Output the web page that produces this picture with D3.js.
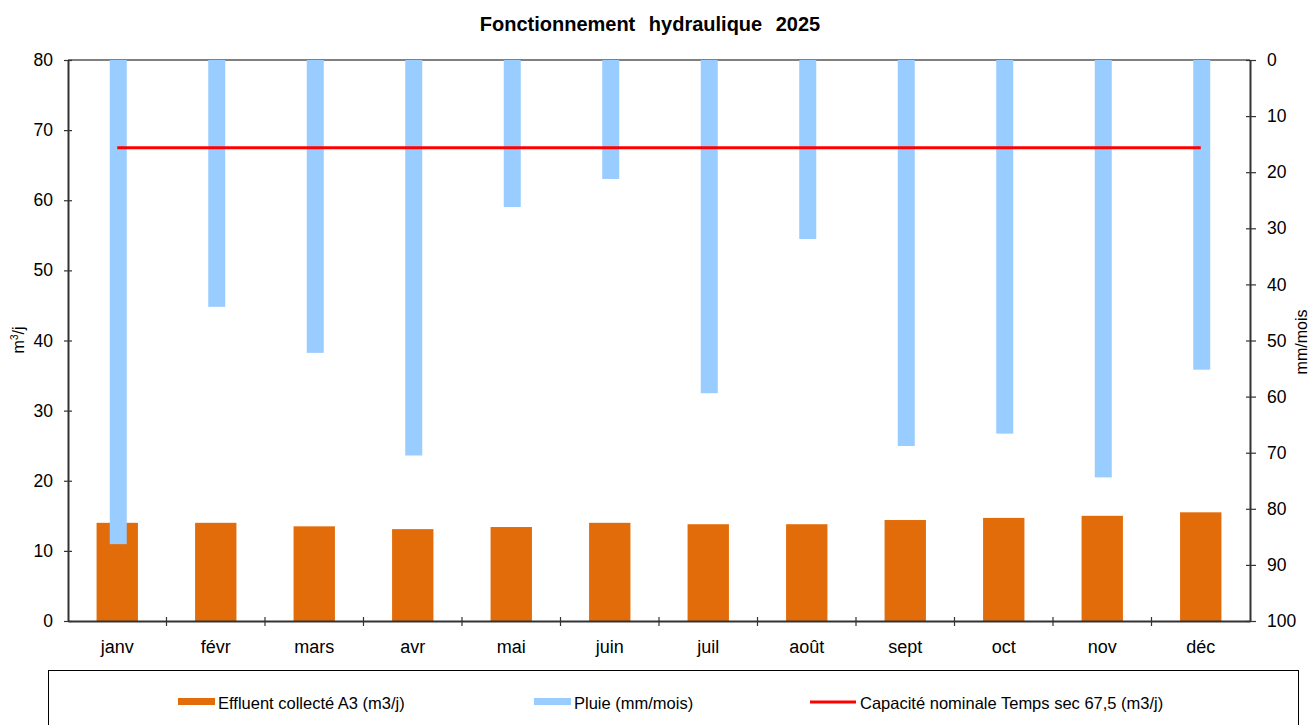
<!DOCTYPE html>
<html>
<head>
<meta charset="utf-8">
<script src="https://cdn.jsdelivr.net/npm/d3@7"></script>
<style>
  body { margin: 0; background: #fff; }
  svg text { font-family: "Liberation Sans", Arial, sans-serif; fill: #000; }
</style>
</head>
<body>
<svg id="chart" width="1312" height="725"></svg>
<script>
// data
var months = ["janv", "févr", "mars", "avr", "mai", "juin", "juil", "août", "sept", "oct", "nov", "déc"];
var effluent = [14.0, 14.0, 13.5, 13.1, 13.4, 14.0, 13.8, 13.8, 14.4, 14.7, 15.0, 15.5];
var pluie = [86.3, 44.0, 52.2, 70.5, 26.2, 21.2, 59.4, 31.9, 68.8, 66.6, 74.4, 55.2];
var capacite = 67.5;
var leftTicks = [0, 10, 20, 30, 40, 50, 60, 70, 80];
var rightTicks = [0, 10, 20, 30, 40, 50, 60, 70, 80, 90, 100];

var svg = d3.select("#chart");
var m = {left: 68, right: 1250, top: 60, bottom: 621};

var x = d3.scaleBand().domain(months).range([m.left, m.right]);
var y = d3.scaleLinear().domain([0, 80]).range([m.bottom, m.top]);
var y2 = d3.scaleLinear().domain([0, 100]).range([m.top, m.bottom]);

// title
svg.append("text")
    .attr("x", 650).attr("y", 31)
    .attr("text-anchor", "middle")
    .style("font-size", "20px").style("font-weight", "bold")
    .style("word-spacing", "8px")
    .text("Fonctionnement hydraulique 2025");

// top border
svg.append("line")
    .attr("x1", m.left).attr("x2", m.right)
    .attr("y1", m.top).attr("y2", m.top)
    .attr("stroke", "#808080").attr("stroke-width", 2);

// effluent bars
var bw = x.bandwidth() * 0.42;
svg.selectAll(".eff")
  .data(effluent)
  .enter().append("rect")
    .attr("class", "eff")
    .attr("x", function(d, i) { return x(months[i]) + x.bandwidth() / 2 - bw / 2; })
    .attr("y", function(d) { return y(d); })
    .attr("width", bw)
    .attr("height", function(d) { return y(0) - y(d); })
    .attr("fill", "#E36C0A");

// rain bars (hanging from top)
var pw = 17;
svg.selectAll(".pluie")
  .data(pluie)
  .enter().append("rect")
    .attr("class", "pluie")
    .attr("x", function(d, i) { return x(months[i]) + x.bandwidth() / 2 - pw / 2 + 1; })
    .attr("y", y2(0))
    .attr("width", pw)
    .attr("height", function(d) { return y2(d) - y2(0); })
    .attr("fill", "#99CCFF");

// capacity line
svg.append("line")
    .attr("x1", x(months[0]) + x.bandwidth() / 2)
    .attr("x2", x(months[11]) + x.bandwidth() / 2)
    .attr("y1", y(capacite)).attr("y2", y(capacite))
    .attr("stroke", "#FF0000").attr("stroke-width", 3);

// left axis
var gl = svg.append("g").attr("transform", "translate(" + m.left + ",0)")
  .call(d3.axisLeft(y).tickValues(leftTicks).tickSize(0).tickPadding(15));
gl.select(".domain").attr("stroke", "#333").attr("stroke-width", 2);
gl.selectAll(".tick text").style("font-size", "17.5px").attr("fill", "#000");
gl.selectAll(".tick").append("line")
    .attr("x1", -4).attr("x2", 4).attr("stroke", "#333").attr("stroke-width", 1.2);

// right axis
var gr = svg.append("g").attr("transform", "translate(" + m.right + ",0)")
  .call(d3.axisRight(y2).tickValues(rightTicks).tickSize(0).tickPadding(17));
gr.select(".domain").attr("stroke", "#333").attr("stroke-width", 2);
gr.selectAll(".tick text").style("font-size", "17.5px").attr("fill", "#000");
gr.selectAll(".tick").append("line")
    .attr("x1", -4).attr("x2", 6).attr("stroke", "#333").attr("stroke-width", 1.2);

// bottom axis
var gb = svg.append("g").attr("transform", "translate(0," + m.bottom + ")")
  .call(d3.axisBottom(x).tickSize(0).tickPadding(19));
gb.select(".domain").attr("stroke", "#333").attr("stroke-width", 2);
gb.selectAll(".tick text").style("font-size", "18px").attr("fill", "#000");
gb.selectAll(".sep")
  .data(months.slice(1))
  .enter().append("line")
    .attr("x1", function(d) { return x(d); })
    .attr("x2", function(d) { return x(d); })
    .attr("y1", -4).attr("y2", 5)
    .attr("stroke", "#333").attr("stroke-width", 1.2);

// axis titles
var lt = svg.append("text")
    .attr("transform", "translate(24,340) rotate(-90)")
    .attr("text-anchor", "middle")
    .style("font-size", "16px");
lt.append("tspan").text("m");
lt.append("tspan").attr("dy", -6).style("font-size", "10px").text("3");
lt.append("tspan").attr("dy", 6).text("/j");

svg.append("text")
    .attr("transform", "translate(1307,342) rotate(-90)")
    .attr("text-anchor", "middle")
    .style("font-size", "16px")
    .text("mm/mois");

// legend
svg.append("rect")
    .attr("x", 48.5).attr("y", 670.5)
    .attr("width", 1250).attr("height", 70)
    .attr("fill", "none").attr("stroke", "#000").attr("stroke-width", 1);

var legend = [
  {label: "Effluent collecté A3 (m3/j)", x: 178, type: "rect", color: "#E36C0A"},
  {label: "Pluie (mm/mois)", x: 534, type: "rect", color: "#99CCFF"},
  {label: "Capacité nominale Temps sec 67,5 (m3/j)", x: 810, type: "line", color: "#FF0000"}
];
var lg = svg.selectAll(".leg").data(legend).enter().append("g").attr("class", "leg");
lg.filter(function(d) { return d.type == "rect"; }).append("rect")
    .attr("x", function(d) { return d.x; }).attr("y", 698)
    .attr("width", 37).attr("height", 7)
    .attr("fill", function(d) { return d.color; });
lg.filter(function(d) { return d.type == "line"; }).append("line")
    .attr("x1", function(d) { return d.x; }).attr("x2", function(d) { return d.x + 46; })
    .attr("y1", 702).attr("y2", 702)
    .attr("stroke", function(d) { return d.color; }).attr("stroke-width", 3);
lg.append("text")
    .attr("x", function(d) { return d.x + (d.type == "line" ? 50 : 40); })
    .attr("y", 709)
    .style("font-size", "16.5px")
    .text(function(d) { return d.label; });
</script>
</body>
</html>
